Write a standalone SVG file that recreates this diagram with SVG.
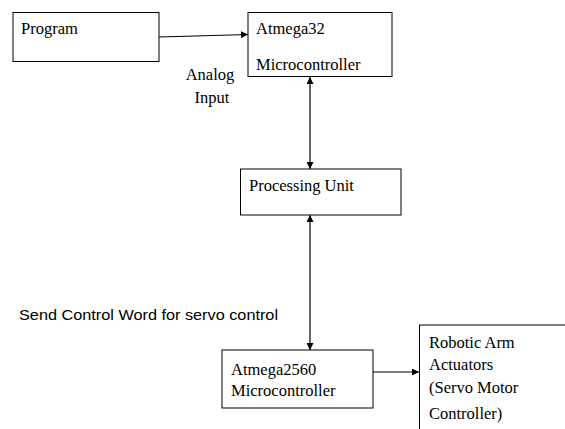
<svg xmlns="http://www.w3.org/2000/svg" width="565" height="429" viewBox="0 0 565 429">
<style>
.box{fill:#fff;stroke:#000;stroke-width:1}
.t{font-family:"Liberation Serif","Times New Roman",serif;font-size:16.5px;fill:#000}
.s{font-family:"Liberation Sans",Arial,sans-serif;font-size:14.5px;fill:#000}
.c{stroke:#000;stroke-width:1.2;fill:none}
</style>
<defs>
<marker id="ah" viewBox="0 0 10 10" refX="10" refY="5" markerWidth="7" markerHeight="7" orient="auto-start-reverse" markerUnits="userSpaceOnUse">
<path d="M0,0 L10,5 L0,10 z" fill="#000"/>
</marker>
</defs>
<rect width="565" height="429" fill="#fff"/>
<g id="connectors">
<line class="c" x1="159" y1="37" x2="248" y2="34.5" marker-end="url(#ah)"/>
<line class="c" x1="310" y1="77" x2="310" y2="169" marker-start="url(#ah)" marker-end="url(#ah)"/>
<line class="c" x1="310" y1="215" x2="310" y2="350" marker-start="url(#ah)" marker-end="url(#ah)"/>
<line class="c" x1="373" y1="372" x2="419" y2="372" marker-end="url(#ah)"/>
</g>
<g id="program">
<rect class="box" x="13" y="12.5" width="146" height="49"/>
<text class="t" x="21" y="34">Program</text>
</g>
<g id="atmega32">
<rect class="box" x="248" y="12.5" width="144" height="64"/>
<text class="t" x="256" y="34">Atmega32</text>
<text class="t" x="256" y="70">Microcontroller</text>
</g>
<g id="analog-label">
<text class="t" x="210" y="80" text-anchor="middle">Analog</text>
<text class="t" x="212" y="103" text-anchor="middle">Input</text>
</g>
<g id="processing">
<rect class="box" x="240.5" y="169" width="160.5" height="46"/>
<text class="t" x="249" y="191">Processing Unit</text>
</g>
<g id="send-label">
<text class="s" x="19" y="320" textLength="259" lengthAdjust="spacingAndGlyphs">Send Control Word for servo control</text>
</g>
<g id="atmega2560">
<rect class="box" x="222" y="350" width="151" height="58"/>
<text class="t" x="231" y="375">Atmega2560</text>
<text class="t" x="231" y="396">Microcontroller</text>
</g>
<g id="robotic">
<rect class="box" x="419.5" y="325" width="150" height="110"/>
<text class="t" x="429" y="348">Robotic Arm</text>
<text class="t" x="429" y="370">Actuators</text>
<text class="t" x="429" y="393">(Servo Motor</text>
<text class="t" x="429" y="419">Controller)</text>
</g>
</svg>
